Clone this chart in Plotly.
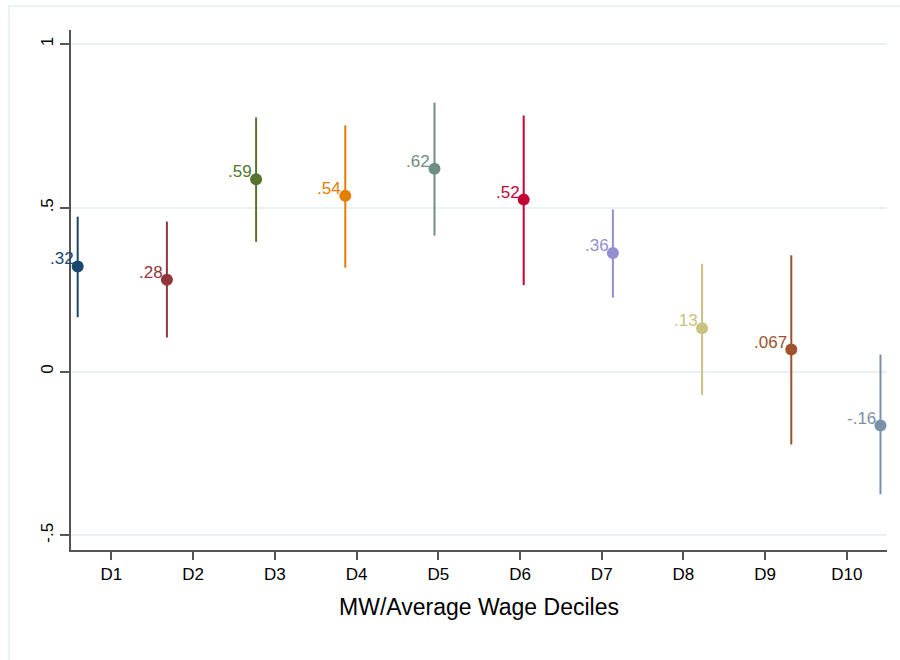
import plotly.graph_objects as go

deciles = ["D1", "D2", "D3", "D4", "D5", "D6", "D7", "D8", "D9", "D10"]
coef = [0.321, 0.280, 0.587, 0.537, 0.619, 0.525, 0.362, 0.132, 0.067, -0.165]
ci_hi = [0.473, 0.458, 0.776, 0.752, 0.821, 0.782, 0.495, 0.329, 0.355, 0.052]
ci_lo = [0.166, 0.104, 0.396, 0.317, 0.415, 0.264, 0.226, -0.072, -0.223, -0.375]
labels = [".32", ".28", ".59", ".54", ".62", ".52", ".36", ".13", ".067", "-.16"]
colors = ["#1a476f", "#90353b", "#55752f", "#e37e00", "#6e8e84",
          "#c10534", "#938dd2", "#cac27e", "#a0522d", "#7890a8"]

y_ticks = [-0.5, 0, 0.5, 1]
y_tick_text = ["-.5", "0", ".5", "1"]

FONT = "Liberation Sans, Arial, sans-serif"

fig = go.Figure()
xs = list(range(1, len(deciles) + 1))
for i, x in enumerate(xs):
    fig.add_trace(go.Scatter(
        x=[x], y=[coef[i]], mode="markers",
        marker=dict(color=colors[i], size=12),
        error_y=dict(type="data", symmetric=False,
                     array=[ci_hi[i] - coef[i]], arrayminus=[coef[i] - ci_lo[i]],
                     color=colors[i], thickness=2, width=0),
        showlegend=False, hoverinfo="skip"))
    fig.add_annotation(x=x, y=coef[i], text=labels[i], showarrow=False,
                       xanchor="right", yanchor="bottom", xshift=-2, yshift=-4,
                       font=dict(color=colors[i], size=17, family=FONT))

tick_pos = [1.377 + 0.9163 * k for k in range(len(deciles))]

fig.update_layout(
    width=900, height=660,
    margin=dict(l=71, r=13, t=30, b=110),
    plot_bgcolor="white", paper_bgcolor="white",
    font=dict(family=FONT, color="#000"),
    xaxis=dict(range=[0.925, 10.073], tickvals=tick_pos, ticktext=deciles,
               showgrid=False, zeroline=False, showline=True, linecolor="#555",
               linewidth=1.5, ticks="outside", ticklen=8, tickcolor="#555", tickwidth=1.5,
               tickfont=dict(size=17, color="#000"),
               title=dict(text="MW/Average Wage Deciles", font=dict(size=23, color="#000"), standoff=16)),
    yaxis=dict(range=[-0.545, 1.043], tickvals=y_ticks, ticktext=y_tick_text,
               showgrid=True, gridcolor="#eaf2f3", gridwidth=1.5, zeroline=False,
               showline=True, linecolor="#555", linewidth=1.5,
               ticks="outside", ticklen=9, tickcolor="#555", tickwidth=1.5,
               tickangle=-90, tickfont=dict(size=17, color="#000")),
)

fig.add_shape(type="rect", xref="paper", yref="paper",
              x0=(9 - 71) / 816, x1=(920 - 71) / 816,
              y0=-(130) / 520, y1=1 + 24 / 520,
              line=dict(color="#e6eef0", width=1.5), layer="below")

fig.write_html("out.html")
